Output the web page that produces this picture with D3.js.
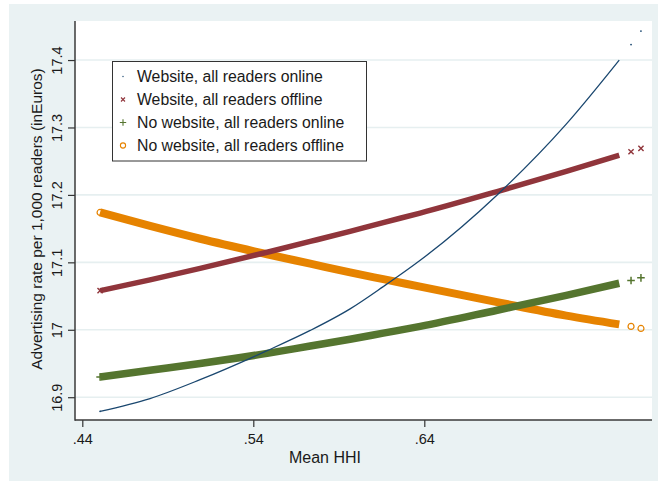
<!DOCTYPE html>
<html>
<head>
<meta charset="utf-8">
<script src="https://cdn.jsdelivr.net/npm/d3@7"></script>
<style>
  body { margin: 0; background: #fff; }
  svg { display: block; }
  text { font-family: "Liberation Sans", Arial, sans-serif; fill: #1a1a1a; }
</style>
</head>
<body>
<svg id="chart" width="658" height="481"></svg>
<script>
// Mean HHI (x) and predicted advertising rate per 1,000 readers (y) for each scenario
const meanHHI          = [0.4504, 0.4796, 0.5089, 0.5481, 0.5733, 0.5966, 0.6160, 0.6376, 0.6826, 0.7230, 0.7540, 0.7609, 0.7667];
const websiteOnline    = [16.879, 16.898, 16.926, 16.969, 16.999, 17.031, 17.064, 17.103, 17.200, 17.305, 17.400, 17.423, 17.443];
const websiteOffline   = [17.058, 17.074, 17.091, 17.115, 17.131, 17.146, 17.159, 17.173, 17.205, 17.235, 17.259, 17.264, 17.269];
const noWebsiteOnline  = [16.930, 16.940, 16.950, 16.965, 16.976, 16.986, 16.995, 17.005, 17.029, 17.051, 17.069, 17.073, 17.077];
const noWebsiteOffline = [17.174, 17.154, 17.135, 17.112, 17.098, 17.085, 17.075, 17.064, 17.041, 17.021, 17.008, 17.005, 17.002];

const seriesLabels = [
  "Website, all readers online",
  "Website, all readers offline",
  "No website, all readers online",
  "No website, all readers offline"
];
const xTickValues = [0.44, 0.54, 0.64];
const xTickLabels = [".44", ".54", ".64"];
const yTickValues = [16.9, 17, 17.1, 17.2, 17.3, 17.4];
const yTickLabels = ["16.9", "17", "17.1", "17.2", "17.3", "17.4"];
const xTitle = "Mean HHI";
const yTitle = "Advertising rate per 1,000 readers (inEuros)";

const svg = d3.select("#chart");
const W = 658, H = 481;
const plot = { left: 75, right: 652, top: 21, bottom: 420 };

// Stata-style graph region
svg.append("rect").attr("x", 9).attr("y", 4).attr("width", W - 9).attr("height", H - 4).attr("fill", "#eaf2f3");
svg.append("rect").attr("x", plot.left).attr("y", plot.top)
  .attr("width", plot.right - plot.left).attr("height", plot.bottom - plot.top).attr("fill", "#fff");

const x = d3.scaleLinear().domain([0.43573, 0.77316]).range([plot.left, plot.right]);
const y = d3.scaleLinear().domain([16.8662, 17.4579]).range([plot.bottom, plot.top]);

// Horizontal gridlines
svg.append("g").selectAll("line").data(yTickValues).join("line")
  .attr("x1", plot.left).attr("x2", plot.right)
  .attr("y1", d => y(d)).attr("y2", d => y(d))
  .attr("stroke", "#e6eff0").attr("stroke-width", 1.6);

// Axes
const yAxis = svg.append("g").attr("transform", `translate(${plot.left},0)`)
  .call(d3.axisLeft(y).tickValues(yTickValues).tickFormat((d, i) => yTickLabels[i]).tickSize(7).tickSizeOuter(0));
yAxis.select(".domain").remove();
yAxis.selectAll(".tick line").attr("stroke", "#333").attr("stroke-width", 1.2);
yAxis.selectAll(".tick text").remove();
yAxis.selectAll(".tick").append("text")
  .attr("transform", "translate(-13,0) rotate(-90)")
  .attr("text-anchor", "middle")
  .attr("font-size", 14.5).text((d, i) => yTickLabels[i]);

const xAxis = svg.append("g").attr("transform", `translate(0,${plot.bottom})`)
  .call(d3.axisBottom(x).tickValues(xTickValues).tickFormat((d, i) => xTickLabels[i]).tickSize(7).tickSizeOuter(0));
xAxis.select(".domain").remove();
xAxis.selectAll(".tick line").attr("stroke", "#333").attr("stroke-width", 1.2);
xAxis.selectAll(".tick text").attr("font-size", 14.5).attr("y", 14).attr("dy", "0.71em").attr("fill", "#1a1a1a");

svg.append("line").attr("x1", plot.left).attr("x2", plot.left).attr("y1", plot.top).attr("y2", plot.bottom + 0.75)
  .attr("stroke", "#3a3a3a").attr("stroke-width", 1.5);
svg.append("line").attr("x1", plot.left).attr("x2", plot.right).attr("y1", plot.bottom).attr("y2", plot.bottom)
  .attr("stroke", "#3a3a3a").attr("stroke-width", 1.5);

// Axis titles
svg.append("text").attr("x", 325).attr("y", 463).attr("text-anchor", "middle").attr("font-size", 16).text(xTitle);
svg.append("text").attr("transform", `translate(42,219) rotate(-90)`)
  .attr("text-anchor", "middle").attr("font-size", 15.5).text(yTitle);

// Marker symbols
const markerPath = {
  dot: r => `M${-r},0a${r},${r} 0 1,0 ${2 * r},0a${r},${r} 0 1,0 ${-2 * r},0`,
  cross: s => `M${-s},${-s}L${s},${s}M${-s},${s}L${s},${-s}`,
  plus: s => `M${-s},0L${s},0M0,${-s}L0,${s}`,
  circle: r => `M${-r},0a${r},${r} 0 1,0 ${2 * r},0a${r},${r} 0 1,0 ${-2 * r},0`
};

const series = [
  { name: seriesLabels[0], values: websiteOnline,    color: "#1a476f", band: 1.3, marker: "dot",    size: 0.9, sw: 0,   fill: "#1a476f" },
  { name: seriesLabels[1], values: websiteOffline,   color: "#90353b", band: 5.5, marker: "cross",  size: 2.6, sw: 1.4, fill: "none" },
  { name: seriesLabels[2], values: noWebsiteOnline,  color: "#55752f", band: 7.5, marker: "plus",   size: 3.8, sw: 1.5, fill: "none" },
  { name: seriesLabels[3], values: noWebsiteOffline, color: "#e68300", band: 8,   marker: "circle", size: 3,   sw: 1.2, fill: "none" }
];

// Dense observations form a solid band; the sparse tail is shown as separate markers
const lastBand = meanHHI.indexOf(0.7540);
const line = d3.line().x(d => x(d[0])).y(d => y(d[1])).curve(d3.curveMonotoneX);

const drawOrder = [3, 2, 1, 0];
drawOrder.forEach(k => {
  const s = series[k];
  const pts = meanHHI.map((h, i) => [h, s.values[i]]);
  const g = svg.append("g");
  g.append("path").datum(pts.slice(0, lastBand + 1)).attr("d", line)
    .attr("fill", "none").attr("stroke", s.color).attr("stroke-width", s.band);
  const ends = [pts[0]].concat(pts.slice(lastBand + 1));
  g.selectAll("path.m").data(ends).join("path").attr("class", "m")
    .attr("transform", d => `translate(${x(d[0])},${y(d[1])})`)
    .attr("d", markerPath[s.marker](s.size))
    .attr("fill", s.fill).attr("stroke", s.sw ? s.color : "none").attr("stroke-width", s.sw);
});

// Legend
const lg = svg.append("g").attr("transform", "translate(112.5,61.5)");
lg.append("rect").attr("width", 254).attr("height", 99.5).attr("fill", "#fff").attr("stroke", "#333").attr("stroke-width", 1);
series.forEach((s, i) => {
  const cy = 15 + i * 23;
  const small = { dot: 0.7, cross: 2, plus: 3.2, circle: 2.6 }[s.marker];
  lg.append("path").attr("transform", `translate(10.5,${cy})`)
    .attr("d", markerPath[s.marker](small))
    .attr("fill", s.fill).attr("stroke", s.sw ? s.color : "none").attr("stroke-width", s.sw ? 1.1 : 0);
  lg.append("text").attr("x", 24.5).attr("y", cy + 5.5).attr("font-size", 15.8).text(s.name);
});
</script>
</body>
</html>
